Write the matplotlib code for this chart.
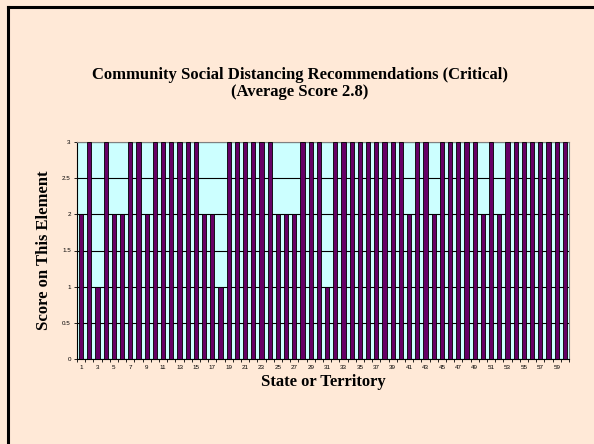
import matplotlib
matplotlib.use("Agg")
import matplotlib.pyplot as plt
from matplotlib.lines import Line2D
import numpy as np

# scores per state / territory
states = list(range(1, 61))
scores = [2, 3, 1, 3, 2, 2, 3, 3, 2, 3,
          3, 3, 3, 3, 3, 2, 2, 1, 3, 3,
          3, 3, 3, 3, 2, 2, 2, 3, 3, 3,
          1, 3, 3, 3, 3, 3, 3, 3, 3, 3,
          2, 3, 3, 2, 3, 3, 3, 3, 3, 2,
          3, 2, 3, 3, 3, 3, 3, 3, 3, 3]
yticks = [0, 0.5, 1, 1.5, 2, 2.5, 3]
ytick_labels = ["0", "0.5", "1", "1.5", "2", "2.5", "3"]

peach = "#FFE9D7"
serif = "Liberation Serif"

fig = plt.figure(figsize=(5.94, 4.44), dpi=100, facecolor=peach)
ax = fig.add_axes([77 / 594, 1 - 359 / 444, 492 / 594, 217 / 444])
ax.set_facecolor("#CCFFFF")

ax.bar(states, scores, width=0.5, color="#660066", edgecolor="black",
       linewidth=0.6, zorder=3)

ax.set_xlim(0.5, 60.5)
ax.set_ylim(0, 3)
ax.set_yticks(yticks)
ax.set_yticklabels(ytick_labels, fontsize=4.5, family="Liberation Sans")
ax.yaxis.grid(True, color="black", linewidth=0.8, zorder=1)
ax.set_axisbelow(True)

# labels on odd categories, tick marks between categories
ax.set_xticks(states[::2])
ax.set_xticklabels([str(s) for s in states[::2]], fontsize=4.5,
                   family="Liberation Sans")
ax.set_xticks(np.arange(0.5, 61, 1), minor=True)
ax.tick_params(axis="x", which="major", length=0, pad=4)
ax.tick_params(axis="x", which="minor", length=2.5, width=0.6)
ax.tick_params(axis="y", length=2.5, width=0.6, pad=2)

for side in ["top", "right"]:
    ax.spines[side].set_color("#808080")
    ax.spines[side].set_linewidth(0.8)
for side in ["left", "bottom"]:
    ax.spines[side].set_color("black")
    ax.spines[side].set_linewidth(0.8)

ax.set_ylabel("Score on This Element", fontsize=12, fontweight="bold",
              family=serif, labelpad=7)
ax.set_xlabel("State or Territory", fontsize=12, fontweight="bold",
              family=serif, labelpad=3)

fig.text(300 / 594, 1 - 75 / 444,
         "Community Social Distancing Recommendations (Critical)",
         ha="center", va="center", fontsize=12, fontweight="bold", family=serif)
fig.text(300 / 594, 1 - 92 / 444, "(Average Score 2.8)",
         ha="center", va="center", fontsize=12, fontweight="bold", family=serif)

# outer frame, only top and left edges are inside the picture
fig.add_artist(Line2D([7.5 / 594, 7.5 / 594], [0, 1 - 7.5 / 444],
                      transform=fig.transFigure, color="black", linewidth=2.2))
fig.add_artist(Line2D([7.5 / 594, 1], [1 - 7.5 / 444, 1 - 7.5 / 444],
                      transform=fig.transFigure, color="black", linewidth=2.2))

fig.savefig("out.png", dpi=100, facecolor=peach)
